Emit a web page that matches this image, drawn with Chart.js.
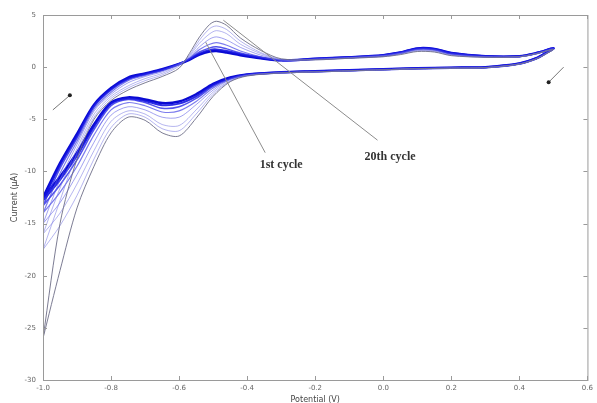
<!DOCTYPE html>
<html>
<head>
<meta charset="utf-8">
<script src="https://cdn.jsdelivr.net/npm/chart.js@4.4.1/dist/chart.umd.min.js"></script>
<style>
  html, body { margin: 0; padding: 0; background: #fff; overflow: hidden; }
</style>
</head>
<body>
<canvas id="cvChart" width="597" height="403"></canvas>
<script>
// potential sweep: forward -1.0 -> 0.5 then back to -1.0
const potential = [
  -1.0, -0.95, -0.9, -0.85, -0.8, -0.75, -0.7, -0.65, -0.6, -0.57, -0.54, -0.51, -0.49, -0.46,
  -0.42, -0.36, -0.3, -0.2, -0.1, 0.0, 0.05, 0.1, 0.15, 0.2, 0.3, 0.4, 0.45, 0.5,
  0.48, 0.45, 0.4, 0.3, 0.2, 0.1, 0.0, -0.1, -0.2, -0.3, -0.4, -0.45, -0.5, -0.55, -0.6,
  -0.65, -0.7, -0.75, -0.8, -0.85, -0.9, -0.95, -1.0
];

// current (uA) per cycle
const cycle1 = [
  -26.0, -15.0, -8.8, -5.0, -3.2, -2.2, -1.5, -0.9, -0.1, 1.3, 2.9, 4.1, 4.4, 4.0,
  2.8, 1.6, 0.8, 0.7, 0.85, 1.0, 1.2, 1.5, 1.45, 1.1, 0.95, 1.0, 1.3, 1.7,
  1.3, 0.8, 0.3, -0.05, -0.1, -0.15, -0.25, -0.35, -0.45, -0.55, -0.85, -1.4, -2.8, -4.9, -6.6,
  -6.3, -5.1, -4.8, -6.3, -9.5, -13.5, -19.5, -26.0
];
const cycle2 = [
  -17.5, -12.8, -8.2, -4.8, -3.0, -2.0, -1.3, -0.75, 0.1, 1.15, 2.6, 3.7, 3.95, 3.6,
  2.5, 1.4, 0.75, 0.7, 0.85, 1.0, 1.25, 1.55, 1.5, 1.15, 0.95, 1.0, 1.3, 1.7,
  1.3, 0.8, 0.3, -0.05, -0.1, -0.15, -0.25, -0.35, -0.45, -0.55, -0.8, -1.35, -2.6, -4.5, -6.1,
  -5.9, -4.8, -4.5, -5.8, -8.8, -12.3, -15.2, -17.5
];
const cycle3 = [
  -16.0, -11.6, -7.8, -4.5, -2.8, -1.8, -1.1, -0.6, 0.2, 1.05, 2.3, 3.2, 3.5, 3.2,
  2.2, 1.3, 0.7, 0.75, 0.9, 1.05, 1.3, 1.6, 1.55, 1.15, 0.95, 1.0, 1.3, 1.7,
  1.3, 0.8, 0.3, -0.05, -0.1, -0.15, -0.25, -0.35, -0.45, -0.55, -0.8, -1.3, -2.4, -4.1, -5.6,
  -5.5, -4.5, -4.2, -5.2, -8.0, -11.2, -14.0, -16.0
];
const cycle5 = [
  -15.0, -10.8, -7.4, -4.2, -2.6, -1.5, -0.9, -0.45, 0.25, 0.95, 1.95, 2.7, 2.9, 2.6,
  1.9, 1.15, 0.7, 0.75, 0.9, 1.1, 1.3, 1.65, 1.6, 1.2, 1.0, 1.0, 1.3, 1.75,
  1.35, 0.8, 0.3, -0.05, -0.1, -0.15, -0.25, -0.35, -0.45, -0.55, -0.8, -1.2, -2.2, -3.6, -4.8,
  -4.8, -4.1, -3.8, -4.6, -7.2, -10.3, -13.0, -15.0
];
const cycle8 = [
  -14.0, -10.2, -7.1, -4.0, -2.4, -1.3, -0.8, -0.35, 0.3, 0.85, 1.7, 2.2, 2.35, 2.1,
  1.55, 1.0, 0.65, 0.75, 0.9, 1.1, 1.35, 1.7, 1.65, 1.25, 1.0, 1.0, 1.3, 1.75,
  1.35, 0.8, 0.3, -0.05, -0.1, -0.15, -0.25, -0.35, -0.45, -0.55, -0.75, -1.15, -2.0, -3.3, -4.2,
  -4.3, -3.7, -3.4, -4.1, -6.5, -9.5, -12.0, -14.0
];
const cycle12 = [
  -13.3, -9.7, -6.8, -3.8, -2.2, -1.2, -0.7, -0.3, 0.3, 0.8, 1.45, 1.85, 1.95, 1.75,
  1.35, 0.95, 0.65, 0.8, 0.95, 1.15, 1.4, 1.75, 1.7, 1.3, 1.05, 1.05, 1.35, 1.8,
  1.4, 0.85, 0.35, 0.0, -0.05, -0.1, -0.2, -0.3, -0.4, -0.5, -0.75, -1.1, -1.85, -3.0, -3.8,
  -3.95, -3.4, -3.1, -3.7, -6.0, -8.9, -11.3, -13.3
];
const cycle16 = [
  -12.8, -9.4, -6.6, -3.7, -2.1, -1.1, -0.65, -0.25, 0.3, 0.75, 1.3, 1.65, 1.7, 1.55,
  1.25, 0.9, 0.65, 0.8, 0.95, 1.15, 1.4, 1.8, 1.75, 1.35, 1.05, 1.05, 1.35, 1.8,
  1.4, 0.85, 0.35, 0.0, -0.05, -0.1, -0.2, -0.3, -0.4, -0.5, -0.7, -1.05, -1.7, -2.8, -3.5,
  -3.65, -3.25, -3.0, -3.5, -5.7, -8.5, -10.8, -12.8
];
const cycle20 = [
  -12.5, -9.2, -6.4, -3.6, -2.0, -1.0, -0.6, -0.2, 0.3, 0.7, 1.2, 1.5, 1.55, 1.4,
  1.15, 0.85, 0.65, 0.8, 0.95, 1.15, 1.4, 1.8, 1.75, 1.35, 1.05, 1.05, 1.35, 1.8,
  1.4, 0.85, 0.35, 0.0, -0.05, -0.1, -0.2, -0.3, -0.4, -0.5, -0.7, -1.0, -1.6, -2.6, -3.3,
  -3.45, -3.1, -2.9, -3.4, -5.5, -8.2, -10.5, -12.5
];

const xTicks = [-1.0, -0.8, -0.6, -0.4, -0.2, 0.0, 0.2, 0.4, 0.6];
const yTicks = [5, 0, -5, -10, -15, -20, -25, -30];

const cycles = [
  { name: "1st cycle", values: cycle1, color: "rgba(110,110,135,0.9)", width: 1 },
  { name: "cycle 2", values: cycle2, color: "rgba(120,120,225,0.55)", width: 1 },
  { name: "cycle 3", values: cycle3, color: "rgba(120,120,225,0.55)", width: 1 },
  { name: "cycle 5", values: cycle5, color: "rgba(100,100,230,0.6)", width: 1 },
  { name: "cycle 8", values: cycle8, color: "rgba(70,70,230,0.7)", width: 1.2 },
  { name: "cycle 12", values: cycle12, color: "rgba(40,40,230,0.8)", width: 1.5 },
  { name: "cycle 16", values: cycle16, color: "rgba(20,20,225,0.9)", width: 2 },
  { name: "20th cycle", values: cycle20, color: "#0a0ad2", width: 2.5 },
];

// box, inward ticks, pointer lines and arrows (matlab look)
const decorations = {
  id: "decorations",
  afterDatasetsDraw(chart) {
    const { ctx, chartArea: a, scales: { x, y } } = chart;
    ctx.save();
    ctx.strokeStyle = "#9a9a9a";
    ctx.lineWidth = 1;
    ctx.strokeRect(a.left + 0.5, a.top + 0.5, a.right - a.left, a.bottom - a.top);
    ctx.beginPath();
    xTicks.forEach(v => {
      const px = Math.round(x.getPixelForValue(v)) + 0.5;
      ctx.moveTo(px, a.bottom); ctx.lineTo(px, a.bottom - 4);
      ctx.moveTo(px, a.top); ctx.lineTo(px, a.top + 4);
    });
    yTicks.forEach(v => {
      const py = Math.round(y.getPixelForValue(v)) + 0.5;
      ctx.moveTo(a.left, py); ctx.lineTo(a.left + 4, py);
      ctx.moveTo(a.right, py); ctx.lineTo(a.right - 4, py);
    });
    ctx.stroke();

    // pointer lines to labels
    const line = (x0, y0, x1, y1) => {
      ctx.beginPath();
      ctx.moveTo(x.getPixelForValue(x0), y.getPixelForValue(y0));
      ctx.lineTo(x.getPixelForValue(x1), y.getPixelForValue(y1));
      ctx.stroke();
    };
    ctx.strokeStyle = "#8c8c8c";
    line(-0.522, 2.4, -0.347, -8.2);
    line(-0.47, 4.5, -0.017, -7.0);

    ctx.fillStyle = "#333";
    ctx.font = "bold 12px 'Liberation Serif', 'DejaVu Serif', serif";
    ctx.textAlign = "center";
    ctx.textBaseline = "middle";
    ctx.fillText("1st cycle", x.getPixelForValue(-0.3), y.getPixelForValue(-9.4));
    ctx.fillText("20th cycle", x.getPixelForValue(0.02), y.getPixelForValue(-8.6));

    // sweep direction arrows
    const arrow = (x0, y0, x1, y1) => {
      const p0 = [x.getPixelForValue(x0), y.getPixelForValue(y0)];
      const p1 = [x.getPixelForValue(x1), y.getPixelForValue(y1)];
      ctx.strokeStyle = "#777";
      ctx.beginPath(); ctx.moveTo(p0[0], p0[1]); ctx.lineTo(p1[0], p1[1]); ctx.stroke();
      ctx.fillStyle = "#222";
      ctx.beginPath(); ctx.arc(p1[0], p1[1], 2, 0, Math.PI * 2); ctx.fill();
    };
    arrow(-0.971, -4.1, -0.921, -2.7);
    arrow(0.53, 0.0, 0.486, -1.45);
    ctx.restore();
  }
};

const ctx = document.getElementById("cvChart").getContext("2d");
const cvChart = new Chart(ctx, {
  type: "scatter",
  data: {
    datasets: cycles.map(c => ({
      label: c.name,
      data: potential.map((p, i) => ({ x: p, y: c.values[i] })),
      showLine: true,
      borderColor: c.color,
      borderWidth: c.width,
      pointRadius: 0,
      tension: 0.3,
      fill: false,
    })),
  },
  options: {
    responsive: false,
    animation: false,
    layout: { padding: { top: 15, right: 5, left: 0, bottom: 0 } },
    plugins: { legend: { display: false }, tooltip: { enabled: false } },
    scales: {
      x: {
        type: "linear",
        min: -1.0,
        max: 0.6,
        afterBuildTicks: s => { s.ticks = xTicks.map(v => ({ value: v })); },
        afterFit: s => { s.height = 23; },
        grid: { display: false, drawTicks: false },
        border: { display: false },
        ticks: {
          color: "#666",
          font: { size: 7, family: "'DejaVu Sans', sans-serif" },
          padding: 4,
          maxRotation: 0,
          callback: v => v.toFixed(1),
        },
        title: {
          display: true,
          text: "Potential (V)",
          color: "#444",
          font: { size: 8, family: "'DejaVu Sans', sans-serif" },
          padding: { top: 0, bottom: -2 },
        },
      },
      y: {
        min: -30,
        max: 5,
        afterBuildTicks: s => { s.ticks = yTicks.map(v => ({ value: v })); },
        afterFit: s => { s.width = 43; },
        grid: { display: false, drawTicks: false },
        border: { display: false },
        ticks: {
          color: "#666",
          font: { size: 7, family: "'DejaVu Sans', sans-serif" },
          padding: 7,
        },
        title: {
          display: true,
          text: "Current (µA)",
          color: "#444",
          font: { size: 8, family: "'DejaVu Sans', sans-serif" },
          padding: { top: 10, bottom: 0 },
        },
      },
    },
  },
  plugins: [decorations],
});
</script>
</body>
</html>
